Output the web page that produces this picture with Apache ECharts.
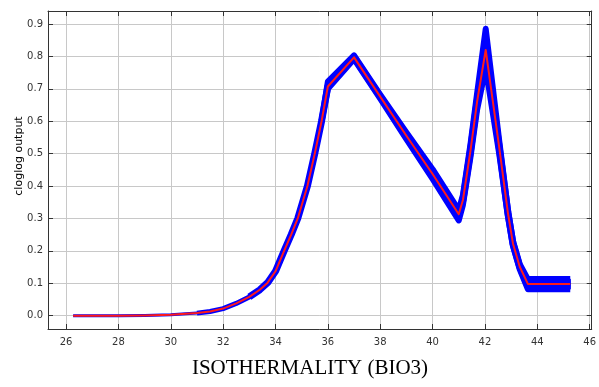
<!DOCTYPE html>
<html>
<head>
<meta charset="utf-8">
<script src="https://cdn.jsdelivr.net/npm/echarts@6/dist/echarts.min.js"></script>
<style>
html,body{margin:0;padding:0;background:#fff;}
#chart{width:599px;height:387px;}
</style>
</head>
<body>
<div id="chart"></div>
<script>
// ---- data ----
var xValues     = [26.27, 28, 29, 30, 31, 31.5, 32, 32.5, 33, 33.4, 33.7, 34.0, 34.33, 34.6, 34.85, 35.22, 35.5, 35.76, 36.0, 37.0, 38.0, 39.0, 40.0, 41.0, 41.16, 41.45, 41.7, 42.03, 42.55, 42.88, 43.07, 43.33, 43.64, 45.26];
var meanValues  = [0.000, 0.000, 0.001, 0.003, 0.008, 0.013, 0.022, 0.038, 0.058, 0.080, 0.102, 0.137, 0.200, 0.250, 0.300, 0.400, 0.500, 0.600, 0.707, 0.797, 0.676, 0.555, 0.437, 0.313, 0.357, 0.510, 0.660, 0.820, 0.517, 0.316, 0.223, 0.151, 0.098, 0.098];
var upperValues = [0.000, 0.000, 0.001, 0.003, 0.008, 0.013, 0.022, 0.038, 0.058, 0.080, 0.102, 0.137, 0.200, 0.250, 0.300, 0.400, 0.500, 0.600, 0.722, 0.803, 0.682, 0.565, 0.452, 0.326, 0.372, 0.530, 0.685, 0.885, 0.537, 0.326, 0.231, 0.159, 0.113, 0.113];
var lowerValues = [0.000, 0.000, 0.001, 0.003, 0.008, 0.013, 0.022, 0.038, 0.058, 0.080, 0.102, 0.137, 0.200, 0.250, 0.300, 0.400, 0.500, 0.600, 0.700, 0.792, 0.670, 0.545, 0.422, 0.294, 0.342, 0.490, 0.635, 0.765, 0.497, 0.306, 0.215, 0.143, 0.082, 0.082];
var xTicks = [26, 28, 30, 32, 34, 36, 38, 40, 42, 44, 46];
var yTicks = [0, 0.1, 0.2, 0.3, 0.4, 0.5, 0.6, 0.7, 0.8, 0.9];
var xTitle = 'ISOTHERMALITY (BIO3)';
var yTitle = 'cloglog output';

var BLUE = '#0000ff', RED = '#ff1a1a';
var chart = echarts.init(document.getElementById('chart'), null, {renderer: 'canvas'});

function pairs(ys, fromX) {
  var out = [];
  xValues.forEach(function (x, i) { if (fromX == null || x >= fromX) out.push([x, ys[i]]); });
  return out;
}

var labelFont = {fontFamily: 'DejaVu Sans', fontSize: 10, color: '#333'};
var xMin = 25.31, xMax = 46.08, yMin = -0.041, yMax = 0.94;

function xAxisDef(pos, showLabel) {
  return {
    type: 'value', position: pos, min: xMin, max: xMax,
    axisLine: {show: true, onZero: false, lineStyle: {color: '#333', width: 1}},
    axisTick: {show: true, inside: true, length: 5, customValues: xTicks, lineStyle: {color: '#333'}},
    axisLabel: Object.assign({show: showLabel, margin: 8, customValues: xTicks}, labelFont),
    splitLine: {show: showLabel, lineStyle: {color: '#c8c8c8', width: 1}}
  };
}
function yAxisDef(pos, showLabel) {
  return {
    type: 'value', position: pos, min: yMin, max: yMax,
    axisLine: {show: true, onZero: false, lineStyle: {color: '#333', width: 1}},
    axisTick: {show: true, inside: true, length: 5, customValues: yTicks, lineStyle: {color: '#333'}},
    axisLabel: Object.assign({show: showLabel, margin: 5, customValues: yTicks,
      formatter: function (v) { return v.toFixed(1); }}, labelFont),
    splitLine: {show: showLabel, lineStyle: {color: '#c8c8c8', width: 1}}
  };
}
function blueLine(data, w) {
  return {type: 'line', data: data, symbol: 'none', silent: true,
    lineStyle: {color: BLUE, width: w, join: 'round', cap: 'butt'}, z: 3};
}

var option = {
  backgroundColor: '#fff',
  animation: false,
  grid: {left: 48, top: 11, right: 7, bottom: 58, containLabel: false},
  xAxis: [xAxisDef('bottom', true), xAxisDef('top', false)],
  yAxis: [yAxisDef('left', true), yAxisDef('right', false)],
  series: [
    {
      type: 'custom',
      data: xValues.map(function (x, i) { return [x, lowerValues[i], upperValues[i]]; }),
      encode: {x: 0, y: [1, 2]},
      clip: true,
      renderItem: function (params, api) {
        if (params.dataIndex !== 0) return null;
        var pts = [];
        for (var i = 0; i < xValues.length; i++) pts.push(api.coord([xValues[i], upperValues[i]]));
        for (var j = xValues.length - 1; j >= 0; j--) pts.push(api.coord([xValues[j], lowerValues[j]]));
        return {type: 'polygon', shape: {points: pts}, style: {fill: BLUE, stroke: BLUE, lineWidth: 1}};
      },
      z: 2
    },
    blueLine(pairs(upperValues, 35.7), 6),
    blueLine(pairs(lowerValues, 35.7), 6),
    blueLine(pairs(meanValues), 3),
    blueLine(pairs(meanValues, 30.9), 5),
    blueLine(pairs(meanValues, 32.9), 7),
    {type: 'line', data: pairs(meanValues), symbol: 'none', lineStyle: {color: RED, width: 2, join: 'round', cap: 'butt'}, z: 4}
  ],
  graphic: [
    {type: 'text', x: 19, y: 156, rotation: Math.PI / 2,
      style: {text: yTitle, fontFamily: 'DejaVu Sans', fontSize: 11, fill: '#000', align: 'center', verticalAlign: 'middle'}},
    {type: 'text', x: 310, y: 368,
      style: {text: xTitle, fontFamily: 'Liberation Serif', fontSize: 21, fill: '#000', align: 'center', verticalAlign: 'middle'}}
  ]
};
chart.setOption(option);
</script>
</body>
</html>
